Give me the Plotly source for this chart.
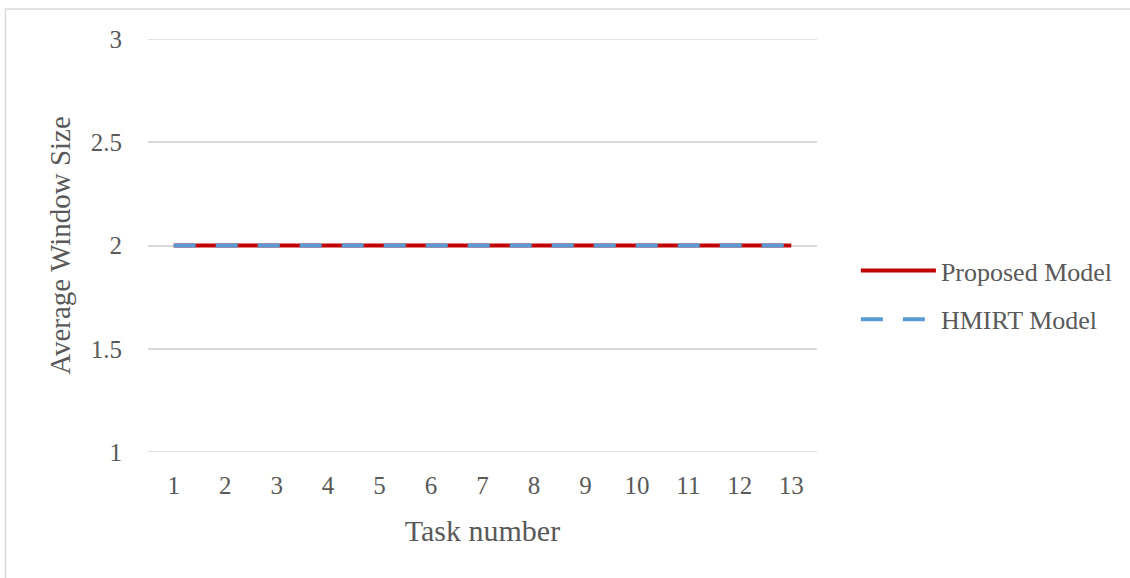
import plotly.graph_objects as go

tasks = list(range(1, 14))
proposed_model = [2, 2, 2, 2, 2, 2, 2, 2, 2, 2, 2, 2, 2]
hmirt_model = [2, 2, 2, 2, 2, 2, 2, 2, 2, 2, 2, 2, 2]
y_ticks = [1, 1.5, 2, 2.5, 3]

FONT = "Liberation Serif"
GREY = "#595959"
GRID = "#d9d9d9"

fig = go.Figure()
fig.add_trace(go.Scatter(
    x=tasks, y=proposed_model, mode="lines", name="Proposed Model",
    line=dict(color="#c00000", width=4), legendgroup="a",
))
fig.add_trace(go.Scatter(
    x=tasks, y=hmirt_model, mode="lines", name="HMIRT Model",
    line=dict(color="#5b9bd5", width=4, dash="22px,20px"), legendgroup="b",
))

L, R, T, B = 148, 311, 39, 126
W, H = 1130, 578
pw, ph = W - L - R, H - T - B

def px_x(x):
    return (x - L) / pw

def px_y(y):
    return (H - B - y) / ph

# outer chart frame
fig.add_shape(type="rect", xref="paper", yref="paper",
              x0=px_x(5), x1=px_x(1140), y0=px_y(9), y1=px_y(590),
              line=dict(color=GRID, width=1.5), fillcolor="rgba(0,0,0,0)",
              layer="below")

# gridlines on the range edges (plotly skips those)
for yv in (y_ticks[0], y_ticks[-1]):
    fig.add_shape(type="line", xref="paper", yref="y", x0=0, x1=1, y0=yv, y1=yv,
                  line=dict(color=GRID, width=1.5), layer="below")

fig.update_layout(
    width=W, height=H,
    margin=dict(l=L, r=R, t=T, b=B),
    paper_bgcolor="white", plot_bgcolor="white",
    font=dict(family=FONT, color=GREY, size=25),
    showlegend=True,
    legend=dict(x=px_x(858), y=px_y(247), xanchor="left", yanchor="top",
                font=dict(family=FONT, size=26, color=GREY),
                itemwidth=75, tracegroupgap=12, traceorder="grouped",
                bgcolor="rgba(0,0,0,0)"),
    xaxis=dict(range=[0.5, 13.5], tickvals=tasks, ticktext=[str(t) for t in tasks],
               showgrid=False, zeroline=False, showline=False, ticks="",
               ticklabelstandoff=16, tickfont=dict(size=25),
               title=dict(text="Task number", font=dict(size=30), standoff=21)),
    yaxis=dict(range=[1, 3], tickvals=y_ticks, ticktext=["1", "1.5", "2", "2.5", "3"],
               showgrid=True, gridcolor=GRID, gridwidth=1.5, zeroline=False,
               showline=False, ticks="", ticklabelstandoff=25, tickfont=dict(size=25),
               title=dict(text="Average Window Size", font=dict(size=29), standoff=11)),
)

fig.write_html("out.html")
